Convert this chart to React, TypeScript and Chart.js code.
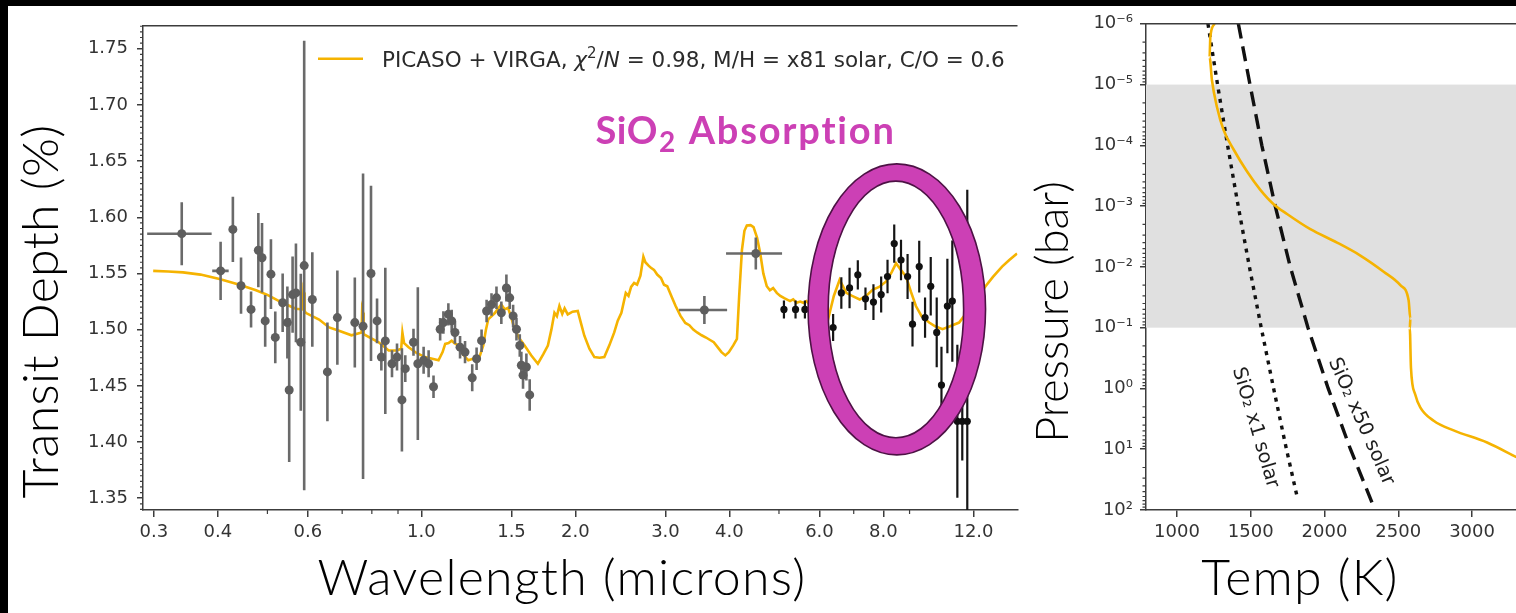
import React, { useEffect, useRef } from 'react';
import { Chart, registerables } from 'chart.js';

Chart.register(...registerables);

// ---------------- Data: left panel (transmission spectrum) ----------------
const MODEL_WL = [
  0.299, 0.32, 0.342, 0.37, 0.403, 0.441, 0.475, 0.5, 0.527, 0.55, 0.568, 0.586, 0.588, 0.5895, 0.591, 0.594,
  0.631, 0.66, 0.69, 0.73, 0.764, 0.766, 0.769, 0.771, 0.8, 0.825, 0.863, 0.895, 0.913, 0.918, 0.925, 0.944,
  0.98, 1.017, 1.05, 1.08, 1.1, 1.113, 1.13, 1.146, 1.16, 1.181, 1.205, 1.235, 1.26, 1.292, 1.321, 1.337,
  1.351, 1.372, 1.393, 1.413, 1.433, 1.455, 1.477, 1.5, 1.521, 1.555, 1.591, 1.64, 1.689, 1.73, 1.767, 1.795,
  1.82, 1.84, 1.861, 1.885, 1.905, 1.932, 1.975, 2.021, 2.05, 2.082, 2.13, 2.178, 2.23, 2.278, 2.33, 2.382,
  2.42, 2.46, 2.509, 2.54, 2.57, 2.605, 2.64, 2.68, 2.716, 2.74, 2.78, 2.81, 2.849, 2.89, 2.94, 2.98,
  3.024, 3.08, 3.14, 3.21, 3.28, 3.34, 3.4, 3.459, 3.53, 3.6, 3.66, 3.728, 3.8, 3.86, 3.928, 3.99,
  4.07, 4.138, 4.18, 4.232, 4.28, 4.327, 4.4, 4.459, 4.53, 4.596, 4.66, 4.733, 4.8, 4.87, 4.95, 5.03,
  5.12, 5.255, 5.33, 5.413, 5.5, 5.578, 5.659, 5.8, 6.0, 6.237, 6.4, 6.57, 6.77, 6.95, 7.19, 7.4,
  7.63, 7.85, 8.1, 8.3, 8.47, 8.66, 8.86, 9.05, 9.26, 9.5, 9.83, 10.1, 10.44, 10.8, 11.25, 11.76,
  12.2, 12.67, 13.1, 13.65, 14.1, 14.6,
];
const MODEL_DEPTH = [
  1.5523, 1.5518, 1.551, 1.549, 1.545, 1.54, 1.535, 1.531, 1.5254, 1.5215, 1.5186, 1.518, 1.535, 1.533, 1.517, 1.515,
  1.509, 1.502, 1.499, 1.495, 1.4975, 1.518, 1.515, 1.496, 1.492, 1.4888, 1.4815, 1.4815, 1.483, 1.4975, 1.488, 1.4844,
  1.479, 1.4756, 1.474, 1.4727, 1.48, 1.4873, 1.488, 1.4902, 1.488, 1.4859, 1.478, 1.4727, 1.474, 1.4727, 1.4859, 1.5,
  1.5092, 1.512, 1.515, 1.519, 1.5224, 1.518, 1.5195, 1.51, 1.5004, 1.492, 1.4859, 1.477, 1.4697, 1.478, 1.4859, 1.5,
  1.515, 1.512, 1.521, 1.514, 1.519, 1.5136, 1.516, 1.5166, 1.506, 1.4946, 1.483, 1.4756, 1.475, 1.4756, 1.486, 1.4975,
  1.508, 1.515, 1.5327, 1.53, 1.538, 1.5415, 1.54, 1.548, 1.5649, 1.56, 1.557, 1.555, 1.5532, 1.549, 1.546, 1.54,
  1.5386, 1.53, 1.521, 1.5122, 1.506, 1.504, 1.5, 1.4975, 1.495, 1.493, 1.491, 1.4888, 1.484, 1.48, 1.4771, 1.48,
  1.486, 1.4917, 1.53, 1.5707, 1.588, 1.5927, 1.593, 1.5913, 1.582, 1.5678, 1.55, 1.5386, 1.535, 1.537, 1.5327, 1.53,
  1.528, 1.5254, 1.527, 1.524, 1.525, 1.5239, 1.5254, 1.52, 1.515, 1.5092, 1.53, 1.5444, 1.5327, 1.53, 1.5268, 1.53,
  1.5356, 1.538, 1.5429, 1.551, 1.559, 1.553, 1.5473, 1.534, 1.521, 1.512, 1.5063, 1.503, 1.5004, 1.503, 1.5063, 1.518,
  1.528, 1.5386, 1.547, 1.5561, 1.562, 1.5678,
];

// HST / ground-based / Spitzer points (grey)
const GRAY_WL = [
  0.34, 0.405, 0.428, 0.444, 0.4645, 0.48, 0.488, 0.495, 0.508, 0.518, 0.5355, 0.547, 0.5515, 0.56, 0.5685, 0.581,
  0.59, 0.612, 0.655, 0.685, 0.741, 0.769, 0.797, 0.819, 0.85, 0.835, 0.876, 0.896, 0.916, 0.93, 0.965, 0.984,
  1.01, 1.033, 1.056, 1.088, 1.104, 1.129, 1.146, 1.163, 1.19, 1.217, 1.257, 1.282, 1.311, 1.341, 1.371, 1.402,
  1.433, 1.466, 1.488, 1.511, 1.534, 1.557, 1.568, 1.58, 1.604, 1.628, 3.574, 4.505,
];
const GRAY_DEPTH = [
  1.5854, 1.5523, 1.5892, 1.5391, 1.518, 1.5707, 1.564, 1.5078, 1.5494, 1.4931, 1.5239, 1.5063, 1.4463, 1.5312, 1.5327, 1.4888,
  1.557, 1.5268, 1.4624, 1.5107, 1.5063, 1.503, 1.55, 1.5078, 1.49, 1.4756, 1.4697, 1.4756, 1.4375, 1.4653, 1.4888, 1.4697,
  1.4727, 1.4697, 1.4492, 1.5004, 1.5063, 1.5136, 1.5078, 1.4975, 1.4844, 1.48, 1.4571, 1.4741, 1.4902, 1.5166, 1.5224, 1.5283,
  1.515, 1.5371, 1.5283, 1.5122, 1.5004, 1.4859, 1.4683, 1.4595, 1.4668, 1.4419, 1.5175, 1.5678,
];
const GRAY_YERR = [
  0.028, 0.026, 0.029, 0.025, 0.016, 0.033, 0.031, 0.023, 0.031, 0.023, 0.026, 0.032, 0.064, 0.034, 0.044, 0.061,
  0.2, 0.042, 0.044, 0.042, 0.04, 0.136, 0.078, 0.02, 0.065, 0.012, 0.012, 0.012, 0.046, 0.012, 0.012, 0.068,
  0.012, 0.012, 0.01, 0.01, 0.01, 0.01, 0.01, 0.01, 0.01, 0.01, 0.012, 0.01, 0.01, 0.01, 0.01, 0.01,
  0.01, 0.012, 0.01, 0.01, 0.01, 0.01, 0.012, 0.012, 0.012, 0.014, 0.0125, 0.0142,
];
const GRAY_XERR = [
  0.049, 0.015, 0, 0, 0, 0, 0, 0, 0, 0, 0, 0, 0.006, 0, 0, 0,
  0, 0.008, 0.006, 0, 0, 0, 0, 0, 0, 0.005, 0.005, 0.005, 0.01, 0.005, 0.005, 0,
  0.005, 0.005, 0.005, 0.005, 0.005, 0.005, 0.005, 0.005, 0.005, 0.005, 0.005, 0.005, 0.005, 0.005, 0.005, 0.005,
  0.005, 0.005, 0.005, 0.005, 0.005, 0.005, 0.005, 0.005, 0.005, 0.005, 0.385, 0.565,
];

// JWST MIRI points (black)
const MIRI_WL = [
  5.113, 5.387, 5.619, 6.38, 6.62, 6.87, 7.13, 7.38, 7.65, 7.92, 8.15, 8.4, 8.66, 8.92, 9.12, 9.4,
  9.65, 9.9, 10.17, 10.39, 10.67, 10.91, 11.16, 11.41, 11.67,
];
const MIRI_DEPTH = [
  1.518, 1.518, 1.518, 1.5019, 1.5327, 1.5371, 1.5488, 1.5274, 1.5245, 1.5312, 1.5473, 1.5766, 1.562, 1.5473, 1.5049, 1.5561,
  1.5107, 1.5386, 1.4975, 1.4507, 1.521, 1.5254, 1.4185, 1.4185, 1.4185,
];
const MIRI_YERR = [
  0.008, 0.008, 0.008, 0.012, 0.014, 0.018, 0.013, 0.01, 0.016, 0.016, 0.015, 0.017, 0.018, 0.02, 0.02, 0.023,
  0.018, 0.026, 0.031, 0.034, 0.042, 0.054, 0.068, 0.035, 0.206,
];

const WL_TICKS = [0.3, 0.4, 0.6, 1.0, 1.5, 2.0, 3.0, 4.0, 6.0, 8.0, 12.0];
const WL_MINOR_TICKS = [0.5, 0.7, 0.8, 0.9, 5.0, 7.0, 9.0];
const DEPTH_TICKS = [1.35, 1.4, 1.45, 1.5, 1.55, 1.6, 1.65, 1.7, 1.75];

// SiO2 ring (data bounds) and label anchor
const RING_OUTER = { wlMin: 5.70, wlMax: 12.67, dMin: 1.3886, dMax: 1.6475 };
const RING_INNER = { wlMin: 6.24, wlMax: 11.48, dMin: 1.4038, dMax: 1.6322 };
const SIO2_LABEL_AT = { wl: 2.19, depth: 1.665 };

// ---------------- Data: right panel (T-P profile) ----------------
const TP_TEMP = [1255, 1226, 1221, 1237, 1271, 1316, 1384, 1475, 1565, 1655, 1746, 1904, 2085, 2243, 2401, 2514, 2570, 2582, 2578, 2586, 2615, 2649, 2740, 2875, 3102, 3300];
const TP_PRES = [1e-6, 1.66e-6, 3.55e-6, 8.5e-6, 2.34e-5, 5.6e-5, 1.17e-4, 2.7e-4, 5.4e-4, 9.3e-4, 1.35e-3, 2.4e-3, 3.98e-3, 6.5e-3, 1.2e-2, 2.0e-2, 3.55e-2, 7.1e-2, 0.102, 0.457, 1.26, 2.04, 3.39, 4.9, 7.76, 13.5];
const SIO2_X1_TEMP = [1210, 1275, 1343, 1415, 1491, 1571, 1655, 1742, 1816];
const SIO2_X1_PRES = [1e-6, 1e-5, 1e-4, 1e-3, 1e-2, 1e-1, 1, 10, 63];
const SIO2_X50_TEMP = [1416, 1495, 1575, 1666, 1768, 1888, 2025, 2176, 2334];
const SIO2_X50_PRES = [1e-6, 1e-5, 1e-4, 1e-3, 1e-2, 1e-1, 1, 10, 89];
const CLOUD_BAND = { pTop: 1e-5, pBottom: 1e-1 };
const TEMP_TICKS = [1000, 1500, 2000, 2500, 3000];
const PRES_TICKS = [1e-6, 1e-5, 1e-4, 1e-3, 1e-2, 1e-1, 1e0, 1e1, 1e2];
const X1_LABEL_AT = { temp: 1531, pres: 4.43 };
const X50_LABEL_AT = { temp: 2248, pres: 3.5 };

// ---------------- Styles ----------------
const ORANGE = '#f5b301';
const MAGENTA = '#cc40b5';
const AXIS = '#3c3c3c';
const TICK_FONT = { family: 'DejaVu Sans', size: 18 };
const TICK_COLOR = '#333333';
const TITLE_FAMILY = 'Lato, "Open Sans", sans-serif';

const SUP: Record<string, string> = { '-': '⁻', '0': '⁰', '1': '¹', '2': '²', '3': '³', '4': '⁴', '5': '⁵', '6': '⁶', '7': '⁷', '8': '⁸', '9': '⁹' };
const pLabel = (v: number) => {
  const e = Math.round(Math.log10(v));
  return '10' + String(e).split('').map((c) => SUP[c]).join('');
};

function clipArea(ctx: CanvasRenderingContext2D, a: any) {
  ctx.beginPath();
  ctx.rect(a.left, a.top, a.right - a.left, a.bottom - a.top);
  ctx.clip();
}

function drawErrorBars(chart: any, xs: number[], ys: number[], yerr: number[], xerr: number[] | null, color: string, width: number) {
  const { ctx, chartArea, scales } = chart;
  const sx = scales.x, sy = scales.y;
  ctx.save();
  clipArea(ctx, chartArea);
  ctx.strokeStyle = color;
  ctx.lineWidth = width;
  for (let i = 0; i < xs.length; i++) {
    const px = sx.getPixelForValue(xs[i]);
    const py = sy.getPixelForValue(ys[i]);
    ctx.beginPath();
    ctx.moveTo(px, sy.getPixelForValue(ys[i] - yerr[i]));
    ctx.lineTo(px, sy.getPixelForValue(ys[i] + yerr[i]));
    if (xerr && xerr[i] > 0) {
      ctx.moveTo(sx.getPixelForValue(xs[i] - xerr[i]), py);
      ctx.lineTo(sx.getPixelForValue(xs[i] + xerr[i]), py);
    }
    ctx.stroke();
  }
  ctx.restore();
}

function drawMinorTicks(ctx: CanvasRenderingContext2D, scale: any, values: number[], len: number, side: 'bottom' | 'left', area: any) {
  ctx.save();
  ctx.strokeStyle = AXIS;
  ctx.lineWidth = 1.2;
  ctx.beginPath();
  for (const v of values) {
    const p = scale.getPixelForValue(v);
    if (side === 'bottom') {
      if (p < area.left || p > area.right) continue;
      ctx.moveTo(p, area.bottom);
      ctx.lineTo(p, area.bottom + len);
    } else {
      if (p < area.top - 0.5 || p > area.bottom + 0.5) continue;
      ctx.moveTo(area.left - len, p);
      ctx.lineTo(area.left, p);
    }
  }
  ctx.stroke();
  ctx.restore();
}

function drawTopBorder(ctx: CanvasRenderingContext2D, a: any) {
  ctx.save();
  ctx.strokeStyle = AXIS;
  ctx.lineWidth = 1.5;
  ctx.beginPath();
  ctx.moveTo(a.left, a.top);
  ctx.lineTo(a.right, a.top);
  ctx.stroke();
  ctx.restore();
}

function drawTitle(ctx: any, text: string, x: number, y: number, rotate: boolean, size: number, spacing: number) {
  ctx.save();
  ctx.font = `300 ${size}px ${TITLE_FAMILY}`;
  ctx.letterSpacing = `${spacing}px`;
  ctx.fillStyle = '#000';
  ctx.textAlign = 'center';
  ctx.textBaseline = 'alphabetic';
  ctx.translate(x, y);
  if (rotate) ctx.rotate(-Math.PI / 2);
  ctx.fillText(text, 0, 0);
  ctx.restore();
}

const leftPlugin = {
  id: 'leftDecor',
  beforeDatasetDraw(chart: any, args: any) {
    if (args.index === 1) drawErrorBars(chart, GRAY_WL, GRAY_DEPTH, GRAY_YERR, GRAY_XERR, '#6a6a6a', 2.6);
    if (args.index === 2) drawErrorBars(chart, MIRI_WL, MIRI_DEPTH, MIRI_YERR, null, '#151515', 2.2);
  },
  afterDatasetsDraw(chart: any) {
    const { ctx, chartArea, scales } = chart;
    const sx = scales.x, sy = scales.y;
    // SiO2 ring
    const ell = (b: any) => {
      const x0 = sx.getPixelForValue(b.wlMin), x1 = sx.getPixelForValue(b.wlMax);
      const y0 = sy.getPixelForValue(b.dMax), y1 = sy.getPixelForValue(b.dMin);
      return { cx: (x0 + x1) / 2, cy: (y0 + y1) / 2, rx: (x1 - x0) / 2, ry: (y1 - y0) / 2 };
    };
    const o = ell(RING_OUTER), n = ell(RING_INNER);
    ctx.save();
    ctx.beginPath();
    ctx.ellipse(o.cx, o.cy, o.rx, o.ry, 0, 0, Math.PI * 2);
    ctx.moveTo(n.cx + n.rx, n.cy);
    ctx.ellipse(n.cx, n.cy, n.rx, n.ry, 0, 0, Math.PI * 2, true);
    ctx.fillStyle = MAGENTA;
    ctx.fill('evenodd');
    ctx.strokeStyle = '#4d1245';
    ctx.lineWidth = 1.6;
    ctx.beginPath();
    ctx.ellipse(o.cx, o.cy, o.rx, o.ry, 0, 0, Math.PI * 2);
    ctx.stroke();
    ctx.beginPath();
    ctx.ellipse(n.cx, n.cy, n.rx, n.ry, 0, 0, Math.PI * 2);
    ctx.stroke();
    ctx.restore();

    // SiO2 Absorption label
    ctx.save();
    ctx.fillStyle = MAGENTA;
    ctx.textBaseline = 'alphabetic';
    ctx.textAlign = 'left';
    let lx = sx.getPixelForValue(SIO2_LABEL_AT.wl);
    const ly = sy.getPixelForValue(SIO2_LABEL_AT.depth);
    ctx.font = `bold 38px ${TITLE_FAMILY}`;
    ctx.letterSpacing = '0.5px';
    ctx.fillText('SiO', lx, ly);
    lx += ctx.measureText('SiO').width + 1;
    ctx.font = `bold 28px ${TITLE_FAMILY}`;
    ctx.fillText('2', lx, ly + 7.4);
    lx += ctx.measureText('2').width + 2;
    ctx.font = `bold 38px ${TITLE_FAMILY}`;
    ctx.letterSpacing = '1.8px';
    ctx.fillText(' Absorption', lx, ly);
    ctx.restore();

    // Legend
    const legX = chartArea.left + 175, legY = chartArea.top + 33;
    ctx.save();
    ctx.strokeStyle = ORANGE;
    ctx.lineWidth = 2.6;
    ctx.beginPath();
    ctx.moveTo(legX, legY);
    ctx.lineTo(legX + 45, legY);
    ctx.stroke();
    const base = '21.5px "DejaVu Sans"';
    const ital = 'italic 21.5px "DejaVu Sans"';
    const segs: [string, string, number][] = [
      ['PICASO + VIRGA, ', base, 0],
      ['χ', ital, 0],
      ['2', '15px "DejaVu Sans"', -9],
      ['/', base, 0],
      ['N', ital, 0],
      [' = 0.98, M/H = x81 solar, C/O = 0.6', base, 0],
    ];
    let tx = legX + 64;
    ctx.fillStyle = '#2b2b2b';
    ctx.textBaseline = 'alphabetic';
    for (const [t, f, dy] of segs) {
      ctx.font = f;
      ctx.fillText(t, tx, legY + 8 + dy);
      tx += ctx.measureText(t).width;
    }
    ctx.restore();
  },
  afterDraw(chart: any) {
    const { ctx, chartArea, scales } = chart;
    const minorY: number[] = [];
    for (let k = 134; k <= 177; k++) {
      minorY.push(k / 100);
      minorY.push(k / 100 + 0.005);
    }
    const majors = new Set(DEPTH_TICKS.map((v) => v.toFixed(3)));
    drawMinorTicks(ctx, scales.y, minorY.filter((v) => !majors.has(v.toFixed(3))), 3, 'left', chartArea);
    drawMinorTicks(ctx, scales.x, WL_MINOR_TICKS, 4, 'bottom', chartArea);
    drawTopBorder(ctx, chartArea);
    drawTitle(ctx, 'Transit Depth (%)', 50, 305.5, true, 50, 0.3);
    drawTitle(ctx, 'Wavelength (microns)', 554, 589, false, 50, 1.3);
  },
};

const rightPlugin = {
  id: 'rightDecor',
  beforeDatasetsDraw(chart: any) {
    const { ctx, chartArea, scales } = chart;
    const y0 = scales.y.getPixelForValue(CLOUD_BAND.pTop);
    const y1 = scales.y.getPixelForValue(CLOUD_BAND.pBottom);
    ctx.save();
    ctx.fillStyle = '#e0e0e0';
    ctx.fillRect(chartArea.left, y0, chartArea.right - chartArea.left, y1 - y0);
    ctx.restore();
  },
  afterDatasetsDraw(chart: any) {
    const { ctx, scales } = chart;
    const lab = (text: string, at: any, angle: number) => {
      ctx.save();
      ctx.translate(scales.x.getPixelForValue(at.temp), scales.y.getPixelForValue(at.pres));
      ctx.rotate((angle * Math.PI) / 180);
      ctx.font = '19.5px "DejaVu Sans"';
      ctx.fillStyle = '#1e1e1e';
      ctx.textAlign = 'center';
      ctx.textBaseline = 'middle';
      ctx.fillText(text, 0, 0);
      ctx.restore();
    };
    lab('SiO₂ x1 solar', X1_LABEL_AT, 73.6);
    lab('SiO₂ x50 solar', X50_LABEL_AT, 66);
  },
  afterDraw(chart: any) {
    const { ctx, chartArea, scales } = chart;
    const minor: number[] = [];
    for (let e = -6; e < 2; e++) for (let m = 2; m <= 9; m++) minor.push(m * Math.pow(10, e));
    drawMinorTicks(ctx, scales.y, minor, 3.5, 'left', chartArea);
    drawTopBorder(ctx, chartArea);
    drawTitle(ctx, 'Pressure (bar)', 46.3, 306, true, 45, 0);
    drawTitle(ctx, 'Temp (K)', 278, 589, false, 50, 1.2);
  },
};

const axisCommon = {
  grid: { drawOnChartArea: false, drawTicks: true, color: AXIS, lineWidth: 1.5 },
  border: { display: true, color: AXIS, width: 1.5 },
};

function leftConfig(): any {
  return {
    type: 'scatter',
    data: {
      datasets: [
        {
          label: 'PICASO + VIRGA',
          data: MODEL_WL.map((w, i) => ({ x: w, y: MODEL_DEPTH[i] })),
          showLine: true,
          borderColor: ORANGE,
          borderWidth: 2.6,
          pointRadius: 0,
          order: 2,
        },
        {
          label: 'HST / ground / Spitzer',
          data: GRAY_WL.map((w, i) => ({ x: w, y: GRAY_DEPTH[i] })),
          pointRadius: 4.5,
          backgroundColor: '#5e5e5e',
          borderWidth: 0,
          order: 1,
        },
        {
          label: 'JWST MIRI',
          data: MIRI_WL.map((w, i) => ({ x: w, y: MIRI_DEPTH[i] })),
          pointRadius: 3.6,
          backgroundColor: '#111111',
          borderWidth: 0,
          order: 0,
        },
      ],
    },
    options: {
      animation: false,
      responsive: false,
      events: [],
      layout: { padding: { top: 13.5, left: 0, right: 0, bottom: 0 } },
      plugins: { legend: { display: false }, tooltip: { enabled: false }, title: { display: false } },
      scales: {
        x: {
          type: 'logarithmic',
          bounds: 'data',
          min: 0.2856,
          max: 14.63,
          afterBuildTicks: (s: any) => { s.ticks = WL_TICKS.map((v) => ({ value: v })); },
          afterFit: (s: any) => { s.height = 103; },
          ticks: { font: TICK_FONT, color: TICK_COLOR, padding: 5, maxRotation: 0, autoSkip: false, callback: (v: any) => Number(v).toFixed(1) },
          grid: { ...axisCommon.grid, tickLength: 7 },
          border: axisCommon.border,
        },
        y: {
          type: 'linear',
          bounds: 'data',
          min: 1.3395,
          max: 1.7704,
          afterBuildTicks: (s: any) => { s.ticks = DEPTH_TICKS.map((v) => ({ value: v })); },
          afterFit: (s: any) => { s.width = 135; },
          ticks: { font: TICK_FONT, color: TICK_COLOR, padding: 9, autoSkip: false, callback: (v: any) => Number(v).toFixed(2) },
          grid: { ...axisCommon.grid, tickLength: 6 },
          border: axisCommon.border,
        },
      },
    },
    plugins: [leftPlugin],
  };
}

function rightConfig(): any {
  return {
    type: 'scatter',
    data: {
      datasets: [
        {
          label: 'T-P profile',
          data: TP_TEMP.map((t, i) => ({ x: t, y: TP_PRES[i] })),
          showLine: true,
          cubicInterpolationMode: 'monotone',
          tension: 0.4,
          borderColor: ORANGE,
          borderWidth: 2.6,
          pointRadius: 0,
        },
        {
          label: 'SiO2 x1 solar',
          data: SIO2_X1_TEMP.map((t, i) => ({ x: t, y: SIO2_X1_PRES[i] })),
          showLine: true,
          tension: 0,
          borderColor: '#111111',
          borderWidth: 3.4,
          borderDash: [4, 5.5],
          pointRadius: 0,
        },
        {
          label: 'SiO2 x50 solar',
          data: SIO2_X50_TEMP.map((t, i) => ({ x: t, y: SIO2_X50_PRES[i] })),
          showLine: true,
          tension: 0,
          borderColor: '#111111',
          borderWidth: 3.4,
          borderDash: [15, 8],
          pointRadius: 0,
        },
      ],
    },
    options: {
      animation: false,
      responsive: false,
      events: [],
      layout: { padding: { top: 13.5, left: 0, right: 0, bottom: 0 } },
      plugins: { legend: { display: false }, tooltip: { enabled: false }, title: { display: false } },
      scales: {
        x: {
          type: 'linear',
          bounds: 'data',
          min: 790,
          max: 3298,
          afterBuildTicks: (s: any) => { s.ticks = TEMP_TICKS.map((v) => ({ value: v })); },
          afterFit: (s: any) => { s.height = 103; },
          ticks: { font: TICK_FONT, color: TICK_COLOR, padding: 5, maxRotation: 0, autoSkip: false, callback: (v: any) => String(v) },
          grid: { ...axisCommon.grid, tickLength: 7 },
          border: axisCommon.border,
        },
        y: {
          type: 'logarithmic',
          bounds: 'data',
          reverse: true,
          min: 1e-6,
          max: 1e2,
          afterBuildTicks: (s: any) => { s.ticks = PRES_TICKS.map((v) => ({ value: v })); },
          afterFit: (s: any) => { s.width = 124; },
          ticks: { font: TICK_FONT, color: TICK_COLOR, padding: 7, autoSkip: false, callback: (v: any) => pLabel(Number(v)) },
          grid: { ...axisCommon.grid, tickLength: 6 },
          border: axisCommon.border,
        },
      },
    },
    plugins: [rightPlugin],
  };
}

export default function App() {
  const leftRef = useRef<HTMLCanvasElement>(null);
  const rightRef = useRef<HTMLCanvasElement>(null);
  useEffect(() => {
    const c1 = new Chart(leftRef.current as HTMLCanvasElement, leftConfig());
    const c2 = new Chart(rightRef.current as HTMLCanvasElement, rightConfig());
    return () => {
      c1.destroy();
      c2.destroy();
    };
  }, []);
  return (
    <div style={{ position: 'fixed', left: 0, top: 0, width: 1516, height: 613, background: '#000', overflow: 'hidden' }}>
      <div style={{ position: 'absolute', left: 8, top: 6, width: 1508, height: 607, background: '#fff' }}>
        <canvas ref={leftRef} width={1014} height={607} style={{ position: 'absolute', left: 0, top: 0, width: 1014, height: 607 }} />
        <canvas ref={rightRef} width={494} height={607} style={{ position: 'absolute', left: 1014, top: 0, width: 494, height: 607 }} />
      </div>
    </div>
  );
}
